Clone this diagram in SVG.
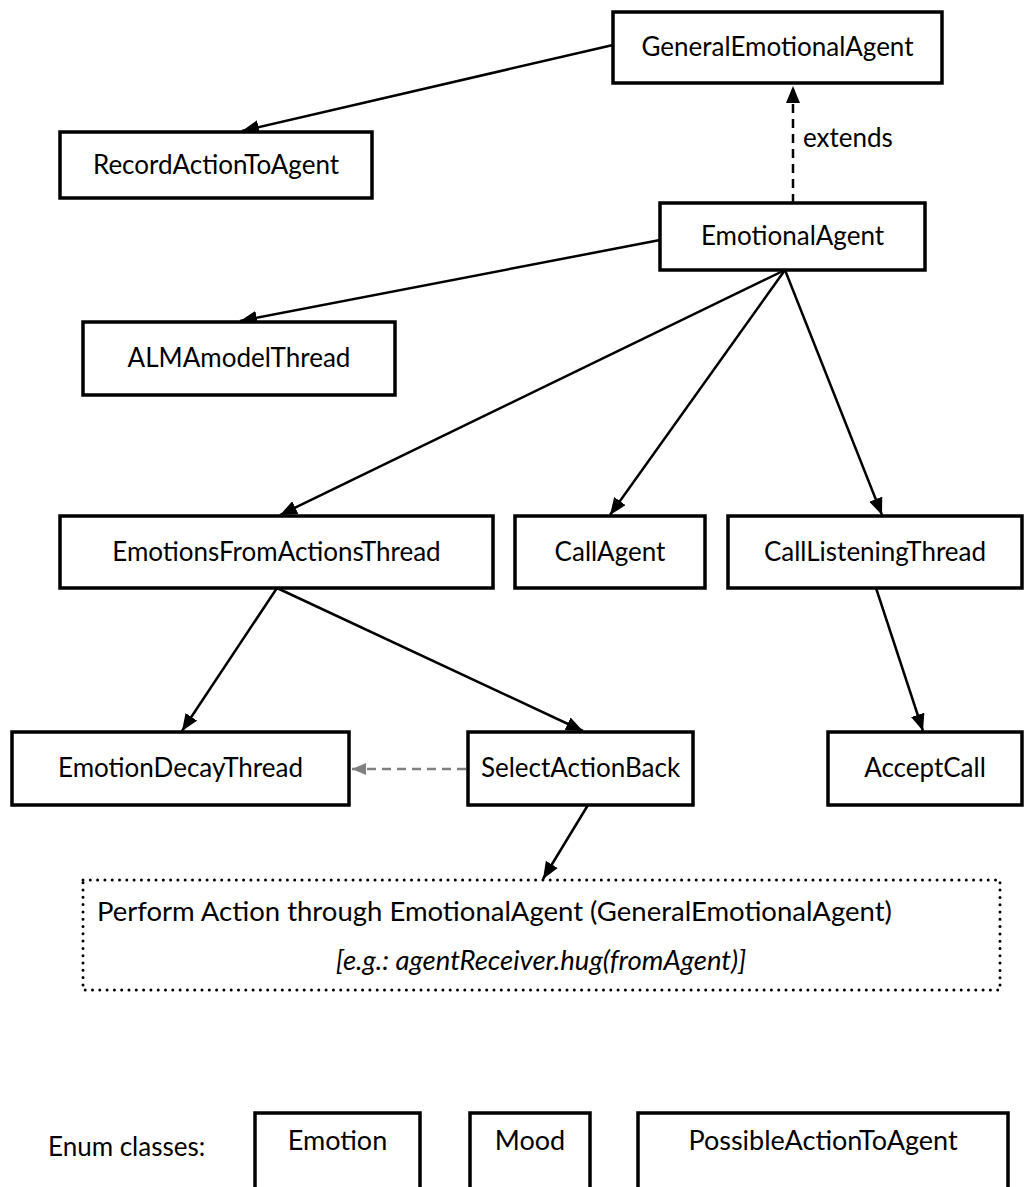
<svg xmlns="http://www.w3.org/2000/svg" width="1035" height="1187" viewBox="0 0 1035 1187">
  <style>
    .box { fill: #ffffff; stroke: #000000; stroke-width: 3.5; }
    .lbl { font-family: Lato, "Noto Sans", "DejaVu Sans", sans-serif; font-size: 26px; fill: #000000; text-anchor: middle; }
    .free { font-family: Lato, "Noto Sans", "DejaVu Sans", sans-serif; font-size: 26px; fill: #000000; }
    .note { font-family: Lato, "Noto Sans", "DejaVu Sans", sans-serif; font-size: 27.5px; fill: #000000; }
    .enum { font-family: Lato, "Noto Sans", "DejaVu Sans", sans-serif; font-size: 27px; fill: #000000; text-anchor: middle; }
    .edge { stroke: #000000; stroke-width: 2.5; fill: none; }
    .ext { stroke: #000000; stroke-width: 2.5; fill: none; stroke-dasharray: 9 6; }
    .dep { stroke: #808080; stroke-width: 2.5; fill: none; stroke-dasharray: 9 6; }
    .dotbox { fill: none; stroke: #000000; stroke-width: 3; stroke-linecap: round; stroke-dasharray: 0 7.3; }
  </style>
  <defs>
    <marker id="head" markerUnits="userSpaceOnUse" viewBox="0 0 17 14" refX="17" refY="7" markerWidth="17" markerHeight="14" orient="auto">
      <path d="M0,0 L17,7 L0,14 Z" fill="#000000"/>
    </marker>
    <marker id="headGray" markerUnits="userSpaceOnUse" viewBox="0 0 14 12" refX="14" refY="6" markerWidth="14" markerHeight="12" orient="auto">
      <path d="M0,0 L14,6 L0,12 Z" fill="#808080"/>
    </marker>
  </defs>

  <rect width="1035" height="1187" fill="#ffffff"/>

  <!-- connectors -->
  <g id="connectors">
    <line class="edge" x1="613" y1="45" x2="242" y2="131" marker-end="url(#head)"/>
    <line class="ext" x1="793" y1="203" x2="793" y2="86" marker-end="url(#head)"/>
    <line class="edge" x1="660" y1="240" x2="240" y2="321" marker-end="url(#head)"/>
    <line class="edge" x1="785" y1="270" x2="280" y2="515" marker-end="url(#head)"/>
    <line class="edge" x1="785" y1="270" x2="610" y2="515" marker-end="url(#head)"/>
    <line class="edge" x1="785" y1="270" x2="882" y2="515" marker-end="url(#head)"/>
    <line class="edge" x1="277" y1="588" x2="182" y2="731" marker-end="url(#head)"/>
    <line class="edge" x1="277" y1="588" x2="583" y2="731" marker-end="url(#head)"/>
    <line class="edge" x1="876" y1="588" x2="923" y2="731" marker-end="url(#head)"/>
    <line class="dep" x1="466" y1="769" x2="352" y2="769" marker-end="url(#headGray)"/>
    <line class="edge" x1="588" y1="805" x2="543" y2="879" marker-end="url(#head)"/>
    <text class="free" x="803" y="147">extends</text>
  </g>

  <g id="GeneralEmotionalAgent">
    <rect class="box" x="613" y="12" width="329" height="71"/>
    <text class="lbl" x="777.5" y="56">GeneralEmotionalAgent</text>
  </g>
  <g id="RecordActionToAgent">
    <rect class="box" x="60" y="132" width="312" height="66"/>
    <text class="lbl" x="216" y="174">RecordActionToAgent</text>
  </g>
  <g id="EmotionalAgent">
    <rect class="box" x="660" y="203" width="265" height="67"/>
    <text class="lbl" x="792.5" y="245">EmotionalAgent</text>
  </g>
  <g id="ALMAmodelThread">
    <rect class="box" x="83" y="322" width="312" height="73"/>
    <text class="lbl" x="239" y="367">ALMAmodelThread</text>
  </g>
  <g id="EmotionsFromActionsThread">
    <rect class="box" x="60" y="516" width="433" height="72"/>
    <text class="lbl" x="276.5" y="561">EmotionsFromActionsThread</text>
  </g>
  <g id="CallAgent">
    <rect class="box" x="515" y="516" width="190" height="72"/>
    <text class="lbl" x="610" y="561">CallAgent</text>
  </g>
  <g id="CallListeningThread">
    <rect class="box" x="728" y="516" width="294" height="72"/>
    <text class="lbl" x="875" y="561">CallListeningThread</text>
  </g>
  <g id="EmotionDecayThread">
    <rect class="box" x="12" y="732" width="337" height="73"/>
    <text class="lbl" x="180.5" y="777">EmotionDecayThread</text>
  </g>
  <g id="SelectActionBack">
    <rect class="box" x="468" y="732" width="225" height="73"/>
    <text class="lbl" x="580.5" y="777">SelectActionBack</text>
  </g>
  <g id="AcceptCall">
    <rect class="box" x="828" y="732" width="194" height="73"/>
    <text class="lbl" x="925" y="777">AcceptCall</text>
  </g>

  <g id="PerformAction">
    <rect class="dotbox" x="83" y="880" width="917" height="110"/>
    <text class="note" x="97" y="921">Perform Action through EmotionalAgent (GeneralEmotionalAgent)</text>
    <text class="note" x="541" y="970" text-anchor="middle" font-style="italic">[e.g.: agentReceiver.hug(fromAgent)]</text>
  </g>

  <g id="EnumClasses">
    <text class="free" x="48" y="1156">Enum classes:</text>
  </g>
  <g id="Emotion">
    <rect class="box" x="255" y="1113" width="165" height="90"/>
    <text class="enum" x="337.5" y="1150">Emotion</text>
  </g>
  <g id="Mood">
    <rect class="box" x="470" y="1113" width="120" height="90"/>
    <text class="enum" x="530" y="1150">Mood</text>
  </g>
  <g id="PossibleActionToAgent">
    <rect class="box" x="638" y="1113" width="370" height="90"/>
    <text class="enum" x="823" y="1150">PossibleActionToAgent</text>
  </g>
</svg>
